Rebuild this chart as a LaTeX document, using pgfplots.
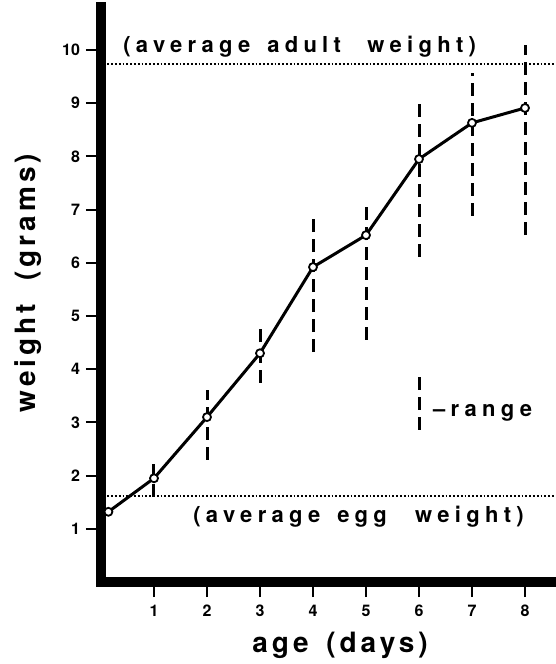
\documentclass[border=0pt]{standalone}
\usepackage{fontspec}
\setmainfont{TeX Gyre Heros}
\newfontfamily\spaced{TeX Gyre Heros}[LetterSpace=24]
\newfontfamily\spacedb{TeX Gyre Heros}[LetterSpace=14]
\usepackage{pgfplots}
\pgfplotsset{compat=1.18}
\tikzset{txt/.style={anchor=base west, inner sep=0pt, font=\spaced\bfseries\fontsize{11}{12}\selectfont}}
\begin{document}
\begin{tikzpicture}
\path[use as bounding box] (-50.5pt,-41pt) rectangle (227.5pt,291pt);
\begin{axis}[
  scale only axis,
  width=225.25pt, height=287.28pt,
  xmin=0, xmax=8.5, ymin=0, ymax=10.8,
  clip=false,
  axis x line*=bottom, axis y line*=left,
  axis line style={line width=5pt, line cap=rect},
  xtick={1,...,8}, ytick={1,...,10},
  tick align=outside,
  major tick length=7.5pt,
  tick style={line width=1pt, black},
  /pgf/number format/assume math mode=true,
  ticklabel style={font=\bfseries\fontsize{8}{9}\selectfont},
  xticklabel style={yshift=-0.5pt},
  yticklabel style={xshift=0.5pt},
  unbounded coords=jump,
]
% range bars
\addplot[black, line width=1.5pt, dash pattern=on 6.5pt off 3.5pt, mark=none] coordinates {
 (1,1.6) (1,2.25) (1,nan)
 (2,2.3) (2,3.6) (2,nan)
 (3,3.75) (3,4.87) (3,nan)
 (4,4.32) (4,6.95) (4,nan)
 (5,4.55) (5,7.09) (5,nan)
 (6,6.11) (6,9.08) (6,nan)
 (7,6.88) (7,9.56) (7,nan)
 (8,6.52) (8,10.1) (8,nan)
 (6,2.86) (6,3.89)
};
% reference lines
\addplot[black, line width=1.1pt, dash pattern=on 0.9pt off 1pt, mark=none] coordinates {(0.12,9.73) (8.58,9.73)};
\addplot[black, line width=1.1pt, dash pattern=on 0.9pt off 1pt, mark=none] coordinates {(0.12,1.61) (8.58,1.61)};
% mean weights
\addplot[black, line width=1.5pt, mark=*, mark size=2pt,
  mark options={fill=white, draw=black, line width=0.9pt}] coordinates {
 (0.14,1.32) (1,1.95) (2,3.1) (3,4.3) (4,5.92) (5,6.52) (6,7.95) (7,8.63) (8,8.91)
};
\node[txt] at (axis cs:0.415,9.95) {(average};
\node[txt] at (axis cs:3.13,9.95) {adult};
\node[txt] at (axis cs:5.02,9.95) {weight)};
\node[txt] at (axis cs:1.736,1.12) {(average};
\node[txt] at (axis cs:4.45,1.12) {egg};
\node[txt] at (axis cs:5.92,1.12) {weight)};
\node[txt] at (axis cs:6.26,3.12) {\textendash range};
\node[anchor=base, inner sep=0pt, font=\spacedb\bfseries\fontsize{14}{16}\selectfont] at (axis cs:4.51,-1.32) {age\hspace{3pt} (days)};
\node[anchor=base, rotate=90, inner sep=0pt, font=\spacedb\bfseries\fontsize{14}{16}\selectfont] at (axis cs:-1.245,5.62) {weight\hspace{6pt} (grams)};
\end{axis}
\end{tikzpicture}
\end{document}
